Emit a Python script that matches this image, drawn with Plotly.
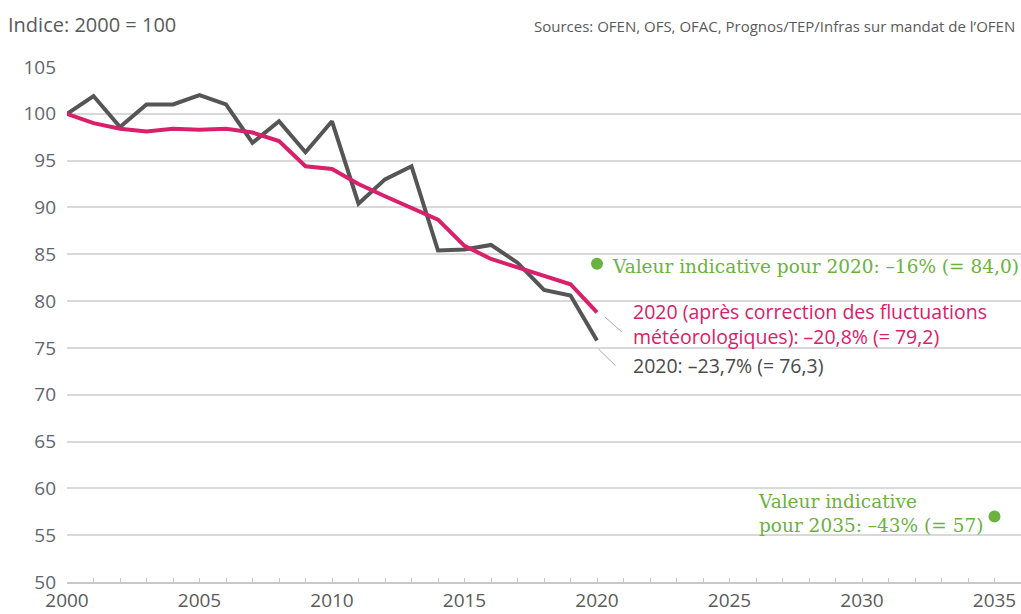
import plotly.graph_objects as go

years = list(range(2000, 2021))
actual = [100, 101.9, 98.6, 101.0, 101.0, 102.0, 101.0, 96.9, 99.2, 95.9, 99.2,
          90.4, 93.0, 94.4, 85.4, 85.5, 86.0, 84.1, 81.2, 80.6, 75.8]
corrected = [100, 99.0, 98.4, 98.1, 98.4, 98.3, 98.4, 98.0, 97.1, 94.4, 94.1,
             92.5, 91.2, 89.9, 88.7, 85.9, 84.5, 83.6, 82.7, 81.8, 78.8]
target_years = [2020, 2035]
target_values = [84.0, 57.0]

y_ticks = list(range(50, 106, 5))
x_ticks = list(range(2000, 2036, 5))

GRAY = "#555555"
PINK = "#d9206a"
GREEN = "#6ab23e"
TEXT = "#5a5a5a"
SANS = "Open Sans"
SERIF = "DejaVu Serif"

fig = go.Figure()

fig.add_trace(go.Scatter(
    x=years, y=actual, mode="lines",
    line=dict(color=GRAY, width=4), name="effectif",
))
fig.add_trace(go.Scatter(
    x=years, y=corrected, mode="lines",
    line=dict(color=PINK, width=4), name="corrigé",
))
fig.add_trace(go.Scatter(
    x=target_years, y=target_values, mode="markers",
    marker=dict(color=GREEN, size=12), name="valeur indicative",
))

annotations = [
    dict(x=-0.064, y=1.083, xref="paper", yref="paper", xanchor="left", yanchor="middle",
         text="Indice: 2000 = 100", showarrow=False, font=dict(family=SANS, size=20, color=TEXT)),
    dict(x=0.996, y=1.079, xref="paper", yref="paper", xanchor="right", yanchor="middle",
         text="Sources: OFEN, OFS, OFAC, Prognos/TEP/Infras sur mandat de l’OFEN",
         showarrow=False, font=dict(family=SANS, size=15, color=TEXT)),
    dict(x=2020.5, y=83.7, xanchor="left", yanchor="middle", align="left",
         text="Valeur indicative pour 2020: –16% (= 84,0)", showarrow=False,
         font=dict(family=SERIF, size=18.5, color=GREEN)),
    dict(x=2021.3, y=77.55, xanchor="left", yanchor="middle", align="left",
         text="2020 (après correction des fluctuations<br>météorologiques): –20,8% (= 79,2)",
         showarrow=False, font=dict(family=SANS, size=19.5, color=PINK)),
    dict(x=2021.3, y=73.1, xanchor="left", yanchor="middle", align="left",
         text="2020: –23,7% (= 76,3)", showarrow=False,
         font=dict(family=SANS, size=19.5, color="#4a4a4a")),
    dict(x=2026.0, y=57.3, xanchor="left", yanchor="middle", align="left",
         text="Valeur indicative<br>pour 2035: –43% (= 57)", showarrow=False,
         font=dict(family=SERIF, size=18.5, color=GREEN)),
]

shapes = [
    dict(type="line", x0=2020.3, y0=78.3, x1=2020.94, y1=76.7,
         line=dict(color="#aaaaaa", width=1)),
    dict(type="line", x0=2020.05, y0=74.9, x1=2020.7, y1=73.1,
         line=dict(color="#aaaaaa", width=1)),
]

fig.update_layout(
    width=1021,
    height=614,
    margin=dict(l=67, r=0, t=67, b=32),
    paper_bgcolor="white",
    plot_bgcolor="white",
    showlegend=False,
    font=dict(family=SANS, color=TEXT),
    annotations=annotations,
    shapes=shapes,
    xaxis=dict(
        range=[2000, 2036],
        tickvals=x_ticks,
        tickfont=dict(family=SANS, size=19, color=TEXT),
        showgrid=False,
        zeroline=False,
        showline=True,
        linecolor="#c8c8c8",
        linewidth=2,
        ticks="inside",
        ticklen=4,
        tickcolor="#c8c8c8",
        minor=dict(dtick=1, ticks="inside", ticklen=4, tickcolor="#c8c8c8"),
    ),
    yaxis=dict(
        range=[50, 105],
        tickvals=y_ticks,
        tickfont=dict(family=SANS, size=19, color="#5f6670"),
        showgrid=True,
        gridcolor="#d9d9d9",
        gridwidth=1.5,
        zeroline=False,
        showline=False,
        ticks="",
        ticklabelstandoff=10,
    ),
)

fig.write_html(
    "out.html",
    config={"displayModeBar": False},
    post_script="document.body.style.margin='0';document.body.style.overflow='hidden';",
)
